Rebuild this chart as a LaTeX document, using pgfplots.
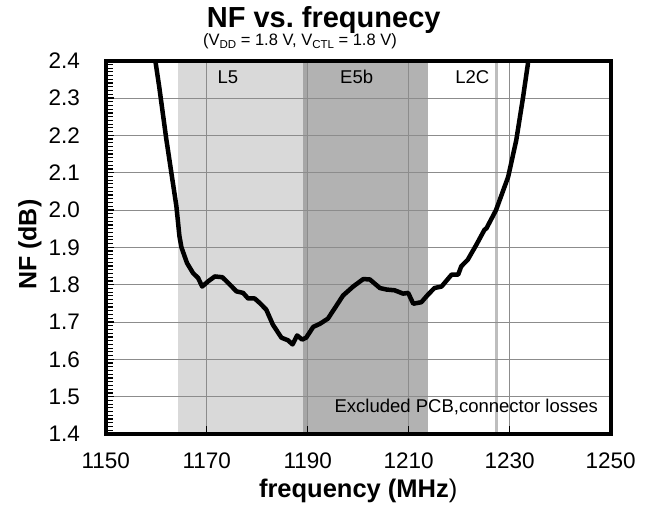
\documentclass[border=0pt]{standalone}
\usepackage{fontspec}
\setmainfont{Liberation Sans}
\usepackage{pgfplots}
\pgfplotsset{compat=1.18}
\definecolor{bandlight}{RGB}{217,217,217}
\definecolor{banddark}{RGB}{178,178,178}
\definecolor{bandstrip}{RGB}{166,166,166}
\definecolor{bandltwoc}{RGB}{190,190,190}
\definecolor{gridgray}{RGB}{140,140,140}
\frenchspacing
\begin{document}
\begin{tikzpicture}
\begin{axis}[
  set layers,
  scale only axis,
  width=505pt, height=373.3pt,
  xmin=1150, xmax=1250, ymin=1.4, ymax=2.4,
  xtick={1150,1170,1190,1210,1230,1250},
  ytick={1.4,1.5,1.6,1.7,1.8,1.9,2.0,2.1,2.2,2.3,2.4},
  minor y tick num=9,
  tick align=inside,
  xtick pos=bottom, ytick pos=left,
  major tick length=8pt, minor tick length=7pt,
  every tick/.style={black, line width=1.2pt},
  grid=major,
  major grid style={color=gridgray, line width=0.9pt},
  axis line style={line width=4pt, line cap=rect},
  /pgf/number format/assume math mode=true,
  tick label style={font=\fontsize{22.5}{27}\selectfont},
  yticklabel style={/pgf/number format/.cd, fixed, fixed zerofill, precision=1, /tikz/.cd, inner sep=0pt, xshift=-25.7pt},
  xticklabel style={/pgf/number format/.cd, set thousands separator={}, /tikz/.cd, inner sep=0pt, yshift=-18.7pt},
  xlabel={\textbf{frequency (MHz}{)}},
  ylabel={NF (dB)},
  xlabel style={at={(axis description cs:0.5,-0.169)}, anchor=base, font=\fontsize{25.5}{30}\selectfont},
  ylabel style={at={(axis description cs:-0.150,0.507)}, anchor=center, font=\bfseries\fontsize{25}{30}\selectfont},
]
% bands
\addplot[on layer=axis background, fill=bandlight, draw=none] coordinates {(1164.3,1.4) (1164.3,2.4) (1190.0,2.4) (1190.0,1.4)} -- cycle;
\addplot[on layer=axis background, fill=banddark, draw=none] coordinates {(1190.0,1.4) (1190.0,2.4) (1213.9,2.4) (1213.9,1.4)} -- cycle;
\addplot[on layer=axis background, fill=bandstrip, draw=none] coordinates {(1189.1,1.4) (1189.1,2.4) (1190.0,2.4) (1190.0,1.4)} -- cycle;
\addplot[on layer=axis background, fill=bandltwoc, draw=none] coordinates {(1227.1,1.4) (1227.1,2.4) (1227.75,2.4) (1227.75,1.4)} -- cycle;
% NF curve
\addplot[black, line width=4.5pt, line join=round] coordinates {
(1159.5,2.43) (1160.6,2.33) (1162.0,2.19) (1164.0,2.01) (1164.6,1.93) (1165.0,1.90)
(1166.1,1.858) (1167.3,1.831) (1168.3,1.818) (1169.1,1.795) (1170.3,1.809)
(1171.6,1.822) (1173.1,1.820) (1174.6,1.800) (1175.9,1.782) (1177.2,1.778)
(1178.2,1.763) (1179.5,1.763) (1180.5,1.751) (1181.8,1.733) (1183.1,1.693)
(1184.8,1.658) (1186.1,1.651) (1187.0,1.640) (1187.9,1.664) (1188.9,1.653)
(1189.7,1.658) (1191.1,1.687) (1192.4,1.695) (1194.0,1.709) (1195.7,1.744)
(1197.0,1.771) (1199.0,1.795) (1201.0,1.815) (1202.3,1.814) (1204.3,1.791)
(1205.6,1.787) (1207.2,1.785) (1208.9,1.776) (1209.9,1.778) (1210.9,1.749)
(1212.5,1.753) (1213.8,1.773) (1215.1,1.791) (1216.5,1.795) (1218.5,1.827)
(1219.8,1.827) (1220.4,1.849) (1221.7,1.867) (1223.4,1.907) (1225.0,1.947)
(1225.4,1.951) (1227.3,2.000) (1229.7,2.089) (1231.3,2.187) (1232.6,2.298)
(1233.6,2.391) (1233.8,2.43)
};
\node[anchor=base, font=\fontsize{18.5}{22}\selectfont] at (axis cs:1174.2,2.338) {L5};
\node[anchor=base, font=\fontsize{18.5}{22}\selectfont] at (axis cs:1199.7,2.338) {E5b};
\node[anchor=base, font=\fontsize{18.5}{22}\selectfont] at (axis cs:1222.6,2.338) {L2C};
\node[anchor=base east, inner sep=0pt, font=\fontsize{18.5}{22}\selectfont] at (axis cs:1247.5,1.457) {Excluded PCB,connector losses};
\end{axis}
\node[anchor=base, inner sep=0pt, font=\bfseries\fontsize{29}{34}\selectfont] at ([shift={(218pt,32.7pt)}]current axis.north west) {NF vs. frequnecy};
\node[anchor=base, inner sep=0pt, font=\fontsize{16.5}{20}\selectfont] at ([shift={(194.3pt,15pt)}]current axis.north west) {(V\raisebox{-2.5pt}{\fontsize{11.5}{12}\selectfont DD} = 1.8 V, V\raisebox{-2.5pt}{\fontsize{11.5}{12}\selectfont CTL} = 1.8 V)};
\path (current axis.south west) ++(-105.7pt,-79pt) rectangle ++(649pt,513pt);
\end{tikzpicture}
\end{document}
